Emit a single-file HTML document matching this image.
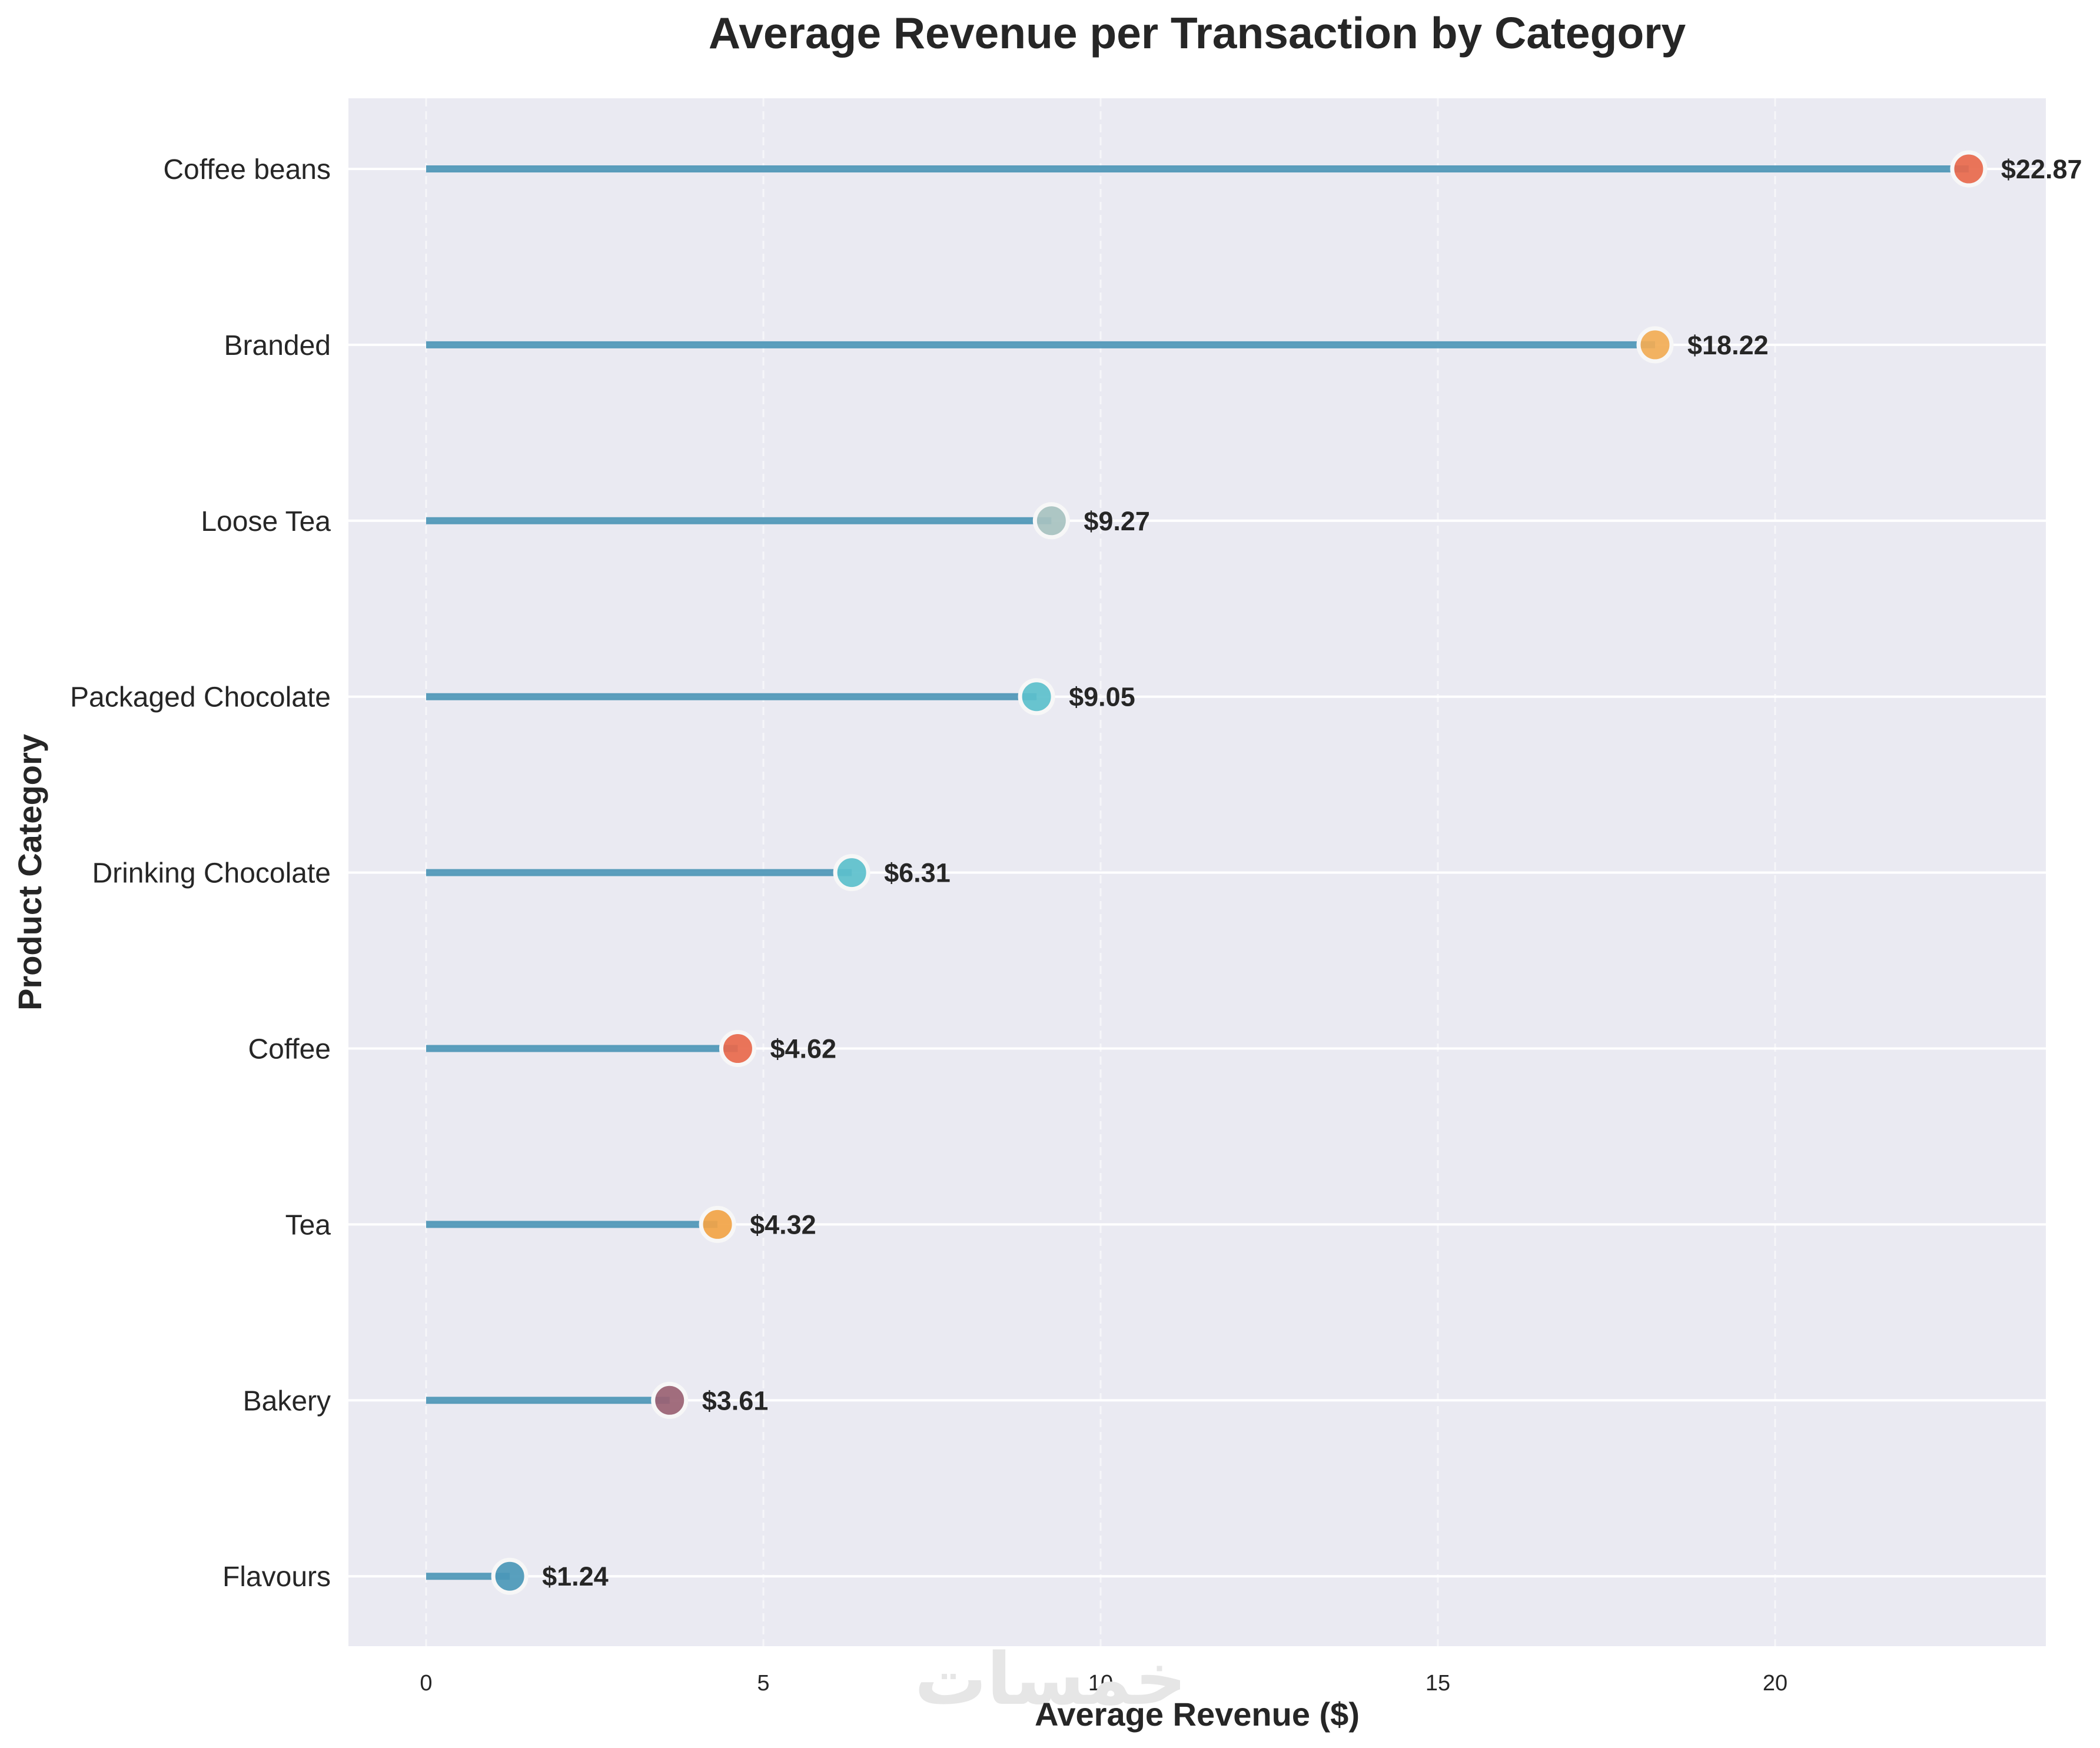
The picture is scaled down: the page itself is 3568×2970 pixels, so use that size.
<!DOCTYPE html>
<html><head><meta charset="utf-8"><style>
html,body{margin:0;padding:0;background:#fff;}
svg{display:block;font-family:"Liberation Sans",Arial,sans-serif;}
</style></head><body>
<svg id="chart" width="3568" height="2970" viewBox="0 0 3568 2970" xmlns="http://www.w3.org/2000/svg">
<rect width="3568" height="2970" fill="#fff"/>
<text x="2034" y="82" text-anchor="middle" font-size="75" font-weight="bold" fill="#262626">Average Revenue per Transaction by Category</text>
<rect x="592" y="167" width="2884" height="2630" fill="#eaeaf2"/>
<g id="grid"></g>
<g id="marks"></g>
<g id="labels"></g>
<text x="1785" y="2895" text-anchor="middle" font-size="122" font-weight="bold" fill="#e6e6e6" font-family="'DejaVu Sans','Noto Sans CJK SC',sans-serif">خمسات</text>
<text x="2034" y="2932" text-anchor="middle" font-size="56" font-weight="bold" fill="#262626">Average Revenue ($)</text>
<text transform="translate(70,1482) rotate(-90)" text-anchor="middle" font-size="56" font-weight="bold" fill="#262626">Product Category</text>
</svg>
<script>
const categories = ["Coffee beans","Branded","Loose Tea","Packaged Chocolate","Drinking Chocolate","Coffee","Tea","Bakery","Flavours"];
const values = [22.87,18.22,9.27,9.05,6.31,4.62,4.32,3.61,1.24];
const markerColors = ["#e8694c","#f2ad55","#a7c2c0","#5cc0cc","#5cc0cc","#e8694c","#f2a447","#9a6273","#4b98b8"];
const xTicks = [0,5,10,15,20];

const NS="http://www.w3.org/2000/svg";
const X0=724, PX=114.6;
function xs(v){return X0+v*PX;}
const Y0=287, STEP=298.9;
function ys(i){return Y0+i*STEP;}
function mk(tag,attrs,parent){const e=document.createElementNS(NS,tag);for(const k in attrs)e.setAttribute(k,attrs[k]);parent.appendChild(e);return e;}
const grid=document.getElementById('grid'), marks=document.getElementById('marks'), labels=document.getElementById('labels');

xTicks.forEach(t=>{
  const l=mk('line',{x1:xs(t),x2:xs(t),y1:167,y2:2797,stroke:'#ffffff','stroke-width':3,'stroke-dasharray':'14,8',opacity:0.6},grid);
  
  
  const tx=mk('text',{x:xs(t),y:2872,'text-anchor':'middle','font-size':38,fill:'#262626'},labels);
  tx.textContent=t;
  
  
});
categories.forEach((c,i)=>{
  const y=ys(i);
  const g=mk('line',{x1:592,x2:3476,y1:y,y2:y,stroke:'#ffffff','stroke-width':4},grid);
  
  
  const tl=mk('text',{x:562,y:y+17,'text-anchor':'end','font-size':48,fill:'#262626'},labels);
  tl.textContent=c;
  
  
  const st=mk('line',{x1:xs(0),x2:xs(values[i]),y1:y,y2:y,stroke:'#4a94b6','stroke-width':12,opacity:0.9},marks);
  
  
  const dot=mk('circle',{cx:xs(values[i]),cy:y,r:28,fill:markerColors[i],'fill-opacity':0.92,stroke:'#f7f7f7','stroke-width':7},marks);
  
  
  const vl=mk('text',{x:xs(values[i])+55,y:y+16,'font-size':45,'font-weight':'bold',fill:'#262626'},labels);
  vl.textContent='$'+values[i].toFixed(2);
  
  
});
</script>
</body></html>
